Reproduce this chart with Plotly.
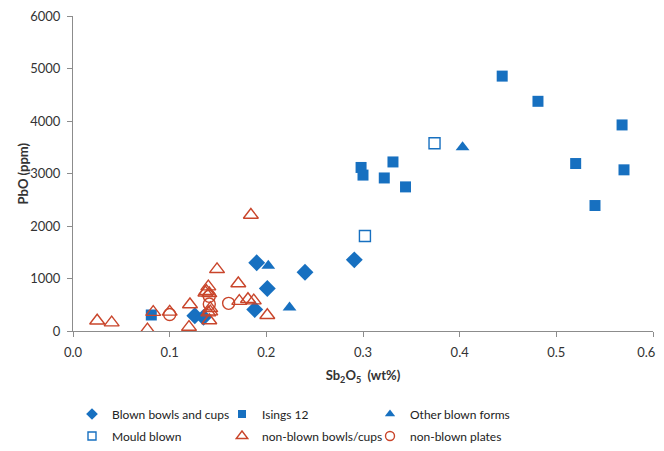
import plotly.graph_objects as go

# ---- data ----
blown_x = [0.126, 0.135, 0.188, 0.190, 0.201, 0.240, 0.291]
blown_y = [290, 260, 410, 1300, 810, 1120, 1355]

isings_x = [0.081, 0.298, 0.300, 0.322, 0.331, 0.344, 0.444, 0.481, 0.520, 0.540, 0.568, 0.570]
isings_y = [305, 3115, 2970, 2915, 3220, 2745, 4855, 4375, 3190, 2390, 3925, 3070]

other_x = [0.202, 0.224, 0.403]
other_y = [1245, 450, 3500]

mould_x = [0.302, 0.374]
mould_y = [1810, 3575]

nbc_x = [0.025, 0.040, 0.077, 0.083, 0.100, 0.120, 0.121, 0.137, 0.138, 0.140,
         0.141, 0.142, 0.142, 0.140, 0.141, 0.149, 0.171, 0.172, 0.181, 0.184, 0.187, 0.201]
nbc_y = [195, 160, 25, 360, 365, 75, 505, 730, 760, 845,
         718, 432, 370, 350, 200, 1175, 905, 570, 605, 2210, 578, 300]

nbp_x = [0.100, 0.141, 0.141, 0.161]
nbp_y = [315, 660, 515, 527]

x_ticks = [0.0, 0.1, 0.2, 0.3, 0.4, 0.5, 0.6]
y_ticks = [0, 1000, 2000, 3000, 4000, 5000, 6000]

BLUE = "#1770c0"
RED = "#c9452b"
GREY = "#8c8c8c"
FONT = "Lato"

# the page body has an 8px margin, so the figure is drawn 8px right/down;
# keep the page from scrolling
OFF = 8
W, H = 664 - OFF, 451 - 2 * OFF
# plot area in page pixels: x 73..653, y 16..331
L = 73 - OFF
R = W - (653 - OFF)
T = 16 - OFF
B = H - (331 - OFF)

# legend text start (page px) and row centre (page px)
series = [
    ("Blown bowls and cups", blown_x, blown_y, "diamond", 13, 9, BLUE, 0, "legend", (112, 414)),
    ("Isings 12", isings_x, isings_y, "square", 11, 8, BLUE, 0, "legend2", (262, 414)),
    ("Other blown forms", other_x, other_y, "triangle-up", 12, 9, BLUE, 0, "legend3", (410, 414)),
    ("Mould blown", mould_x, mould_y, "square-open", 11, 8, BLUE, 1.4, "legend4", (112, 436)),
    ("non-blown bowls/cups", nbc_x, nbc_y, "triangle-up-open", 13, 10, RED, 1.4, "legend5", (262, 436)),
    ("non-blown plates", nbp_x, nbp_y, "circle-open", 12, 9, RED, 1.4, "legend6", (410, 436)),
]

fig = go.Figure()
legends = {}
for name, xs, ys, sym, size, lsize, col, lw, lg, (tx, ty) in series:
    mk = dict(symbol=sym, size=size, color=col)
    if lw:
        mk["line"] = dict(width=lw, color=col)
    fig.add_trace(go.Scatter(x=xs, y=ys, mode="markers", name=name, marker=mk,
                             showlegend=False))
    lmk = dict(mk)
    lmk["size"] = lsize
    fig.add_trace(go.Scatter(x=[None], y=[None], mode="markers", name=name, marker=lmk,
                             showlegend=True, legend=lg))
    lx = tx - OFF - 40
    ly = ty - OFF
    legends[lg] = dict(x=lx / W, y=1 - ly / H, xref="container", yref="container",
                       xanchor="left", yanchor="middle", bgcolor="rgba(0,0,0,0)",
                       font=dict(family=FONT, size=12, color="#222"),
                       itemwidth=30, tracegroupgap=0)

# last x label nudged left (non-breaking pad) so it is not cut at the page edge
x_ticktext = [f"{v:.1f}" for v in x_ticks]
x_ticktext[-1] = x_ticktext[-1] + "\u00a0" * 4

fig.update_layout(
    width=W, height=H,
    margin=dict(l=L, r=R, t=T, b=B, autoexpand=False),
    paper_bgcolor="white", plot_bgcolor="white",
    font=dict(family=FONT, size=13, color="#333"),
    showlegend=True,
    **legends,
    xaxis=dict(range=[0, 0.6], tickvals=x_ticks, ticktext=x_ticktext,
               showgrid=False, zeroline=False, showline=True, linecolor=GREY, linewidth=1,
               ticks="outside", ticklen=5, tickcolor=GREY, ticklabelstandoff=4,
               ticklabeloverflow="allow",
               tickfont=dict(family=FONT, size=13, color="#333"),
               title=dict(text="<b>Sb<sub>2</sub>O<sub>5</sub>  (wt%)</b>", standoff=12,
                          font=dict(family=FONT, size=13, color="#333"))),
    yaxis=dict(range=[0, 6000], tickvals=y_ticks,
               showgrid=False, zeroline=False, showline=True, linecolor=GREY, linewidth=1,
               ticks="outside", ticklen=5, tickcolor=GREY, ticklabeloverflow="allow",
               ticklabelstandoff=4,
               tickfont=dict(family=FONT, size=13, color="#333")),
    annotations=[dict(text="<b>PbO (ppm)</b>", xref="paper", yref="paper", x=0, y=0.5,
                      xanchor="center", yanchor="middle", xshift=22 - 73, textangle=-90,
                      showarrow=False, font=dict(family=FONT, size=13, color="#333"))],
)

fig.write_html("out.html")
